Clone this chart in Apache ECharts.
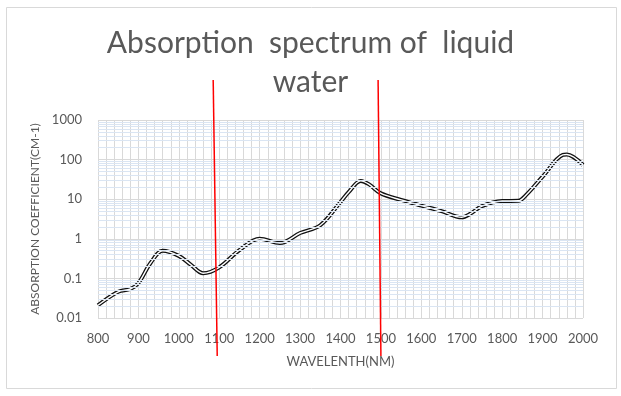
<!DOCTYPE html>
<html>
<head>
<meta charset="utf-8">
<script src="https://cdn.jsdelivr.net/npm/echarts@6/dist/echarts.min.js"></script>
<style>
    html, body { margin: 0; padding: 0; background: #fff; }
    #chart { width: 621px; height: 396px; }
</style>
</head>
<body>
<div id="chart"></div>
<script>
// wavelength (nm) and absorption coefficient (cm-1)
const wavelength = [800, 850, 880, 900, 930, 960, 1000, 1030, 1060, 1100, 1150, 1200, 1250, 1300, 1350,
    1400, 1420, 1450, 1470, 1500, 1550, 1600, 1650, 1700, 1720, 1750, 1800, 1840, 1860, 1900, 1950, 1960, 2000];
const absorption = [0.021, 0.046, 0.054, 0.076, 0.245, 0.50, 0.37, 0.22, 0.135, 0.19, 0.52, 1.0, 0.78, 1.4, 2.2,
    8.5, 15, 29, 24, 14, 9.6, 6.9, 5.0, 3.5, 4.2, 6.7, 9.0, 9.1, 13, 37, 131, 134, 73];

// red hand-drawn markers: wavelength at top end and bottom end
const markerTop = [1085, 1493];
const markerBottom = [1095, 1500];

// log grid: decades and minor steps
const decades = [0.01, 0.1, 1, 10, 100];
const minorSteps = [2, 3, 4, 5, 6, 7, 8, 9];

const textColor = '#595959';
const gridColor = '#d9d9d9';
const minorColor = '#dae5f3';

const points = wavelength.map((w, i) => [w, absorption[i]]);
const minorLines = [];
decades.forEach((d) => {
    minorSteps.forEach((s) => minorLines.push({ yAxis: +(d * s).toPrecision(3) }));
});

const chart = echarts.init(document.getElementById('chart'), null, { renderer: 'canvas' });

const option = {
    animation: false,
    backgroundColor: '#fff',
    title: {
        text: 'Absorption  spectrum of  liquid\nwater',
        left: 'center',
        top: 19,
        textStyle: {
            fontFamily: 'Lato',
            fontWeight: 'normal',
            fontSize: 30,
            lineHeight: 39,
            color: textColor,
        },
    },
    grid: {
        left: 98,
        right: 38,
        top: 120,
        bottom: 78,
    },
    xAxis: {
        type: 'value',
        min: 800,
        max: 2000,
        interval: 100,
        name: 'WAVELENTH(NM)',
        nameLocation: 'middle',
        nameGap: 37,
        nameTextStyle: { fontFamily: 'Lato', fontSize: 13, color: textColor },
        axisLine: { show: false },
        axisTick: { show: false },
        axisLabel: {
            fontFamily: 'Lato',
            fontSize: 13,
            color: textColor,
            margin: 14,
            formatter: (v) => String(v),
        },
        splitLine: { show: true, lineStyle: { color: gridColor, width: 1 } },
        minorTick: { show: false, splitNumber: 5 },
        minorSplitLine: { show: true, lineStyle: { color: gridColor, width: 1 } },
    },
    yAxis: {
        type: 'log',
        logBase: 10,
        min: 0.01,
        max: 1000,
        name: 'ABSORPTION COEFFICIENT(CM-1)',
        nameLocation: 'middle',
        nameGap: 55,
        nameTextStyle: { fontFamily: 'Lato', fontSize: 12, color: textColor },
        axisLine: { show: false },
        axisTick: { show: false },
        axisLabel: {
            fontFamily: 'Lato',
            fontSize: 13,
            color: textColor,
            margin: 16,
            formatter: (v) => String(+v.toPrecision(3)),
        },
        splitLine: { show: true, lineStyle: { color: gridColor, width: 1 } },
    },
    series: [
        {
            name: 'minor grid',
            type: 'line',
            data: [],
            silent: true,
            z: 1,
            markLine: {
                silent: true,
                symbol: 'none',
                label: { show: false },
                lineStyle: { color: minorColor, width: 1, type: 'solid' },
                data: minorLines,
            },
        },
        {
            name: 'outline',
            type: 'line',
            data: points,
            smooth: 0.35,
            showSymbol: false,
            z: 3,
            lineStyle: { color: '#111', width: 4 },
        },
        {
            name: 'inner',
            type: 'line',
            data: points,
            smooth: 0.35,
            showSymbol: false,
            z: 4,
            lineStyle: { color: '#fff', width: 1.4 },
        },
    ],
};

chart.setOption(option);

// frame and the two red marker lines
const graphics = [
    {
        type: 'rect',
        shape: { x: 6.5, y: 7.5, width: 610, height: 381 },
        style: { fill: 'none', stroke: gridColor, lineWidth: 1 },
        silent: true,
        z: 0,
    },
];
markerTop.forEach((w, i) => {
    const x1 = chart.convertToPixel({ xAxisIndex: 0 }, w);
    const x2 = chart.convertToPixel({ xAxisIndex: 0 }, markerBottom[i]);
    graphics.push({
        type: 'line',
        shape: { x1: x1, y1: 80, x2: x2, y2: 356 },
        style: { stroke: '#ff0000', lineWidth: 1.5 },
        silent: true,
        z: 10,
    });
});
chart.setOption({ graphic: graphics });
</script>
</body>
</html>
